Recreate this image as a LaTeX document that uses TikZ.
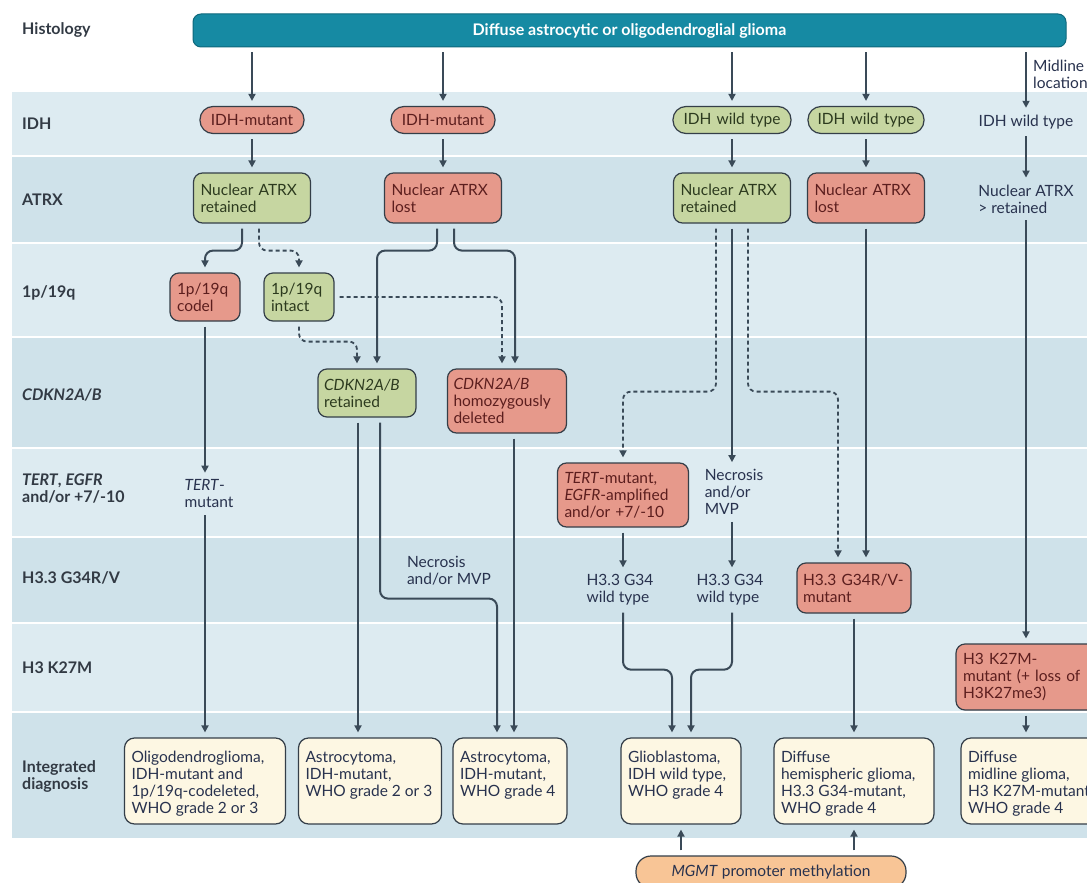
\documentclass[tikz,border=0pt]{standalone}
\usepackage{fontspec}
\setmainfont{Lato}
\usepackage{xcolor}
\usepackage{tikz}
\usetikzlibrary{arrows.meta, positioning, calc}
\definecolor{histteal}{RGB}{22,138,163}
\definecolor{histedge}{RGB}{14,104,124}
\definecolor{bandlt}{RGB}{221,235,241}
\definecolor{banddk}{RGB}{207,226,234}
\definecolor{redfill}{RGB}{230,153,139}
\definecolor{greenfill}{RGB}{198,214,161}
\definecolor{creamfill}{RGB}{253,247,227}
\definecolor{orangefill}{RGB}{248,197,150}
\definecolor{boxline}{RGB}{52,62,72}
\definecolor{lineclr}{RGB}{58,74,88}
\definecolor{redtext}{RGB}{92,30,30}
\definecolor{greentext}{RGB}{44,58,30}
\definecolor{plaintext}{RGB}{40,50,78}
\definecolor{lbltext}{RGB}{50,58,68}
\newcommand{\boxfont}{\fontsize{15.5}{17}\selectfont}
\newcommand{\lblfont}{\fontsize{16}{17}\selectfont\bfseries}
\newcommand{\dgtext}[2]{\parbox[c][86pt][t]{#1pt}{\vspace*{13pt}\raggedright #2}}
\tikzset{
  rowlbl/.style={anchor=west, font=\lblfont, text=lbltext, align=left, inner sep=0pt},
  topbox/.style={rectangle, draw=histedge, fill=histteal, rounded corners=8pt,
    line width=1pt, minimum width=873pt, minimum height=33pt,
    font=\fontsize{16}{18}\selectfont\bfseries, text=white},
  box/.style={rectangle, draw=boxline, line width=1.2pt, rounded corners=9pt,
    align=left, inner xsep=7pt, inner ysep=4pt, font=\boxfont},
  redbox/.style={box, fill=redfill, text=redtext},
  greenbox/.style={box, fill=greenfill, text=greentext},
  redpill/.style={redbox, rounded corners=13pt, align=center, minimum height=27pt},
  greenpill/.style={greenbox, rounded corners=13pt, align=center, minimum height=27pt},
  plain/.style={font=\boxfont, text=plaintext, align=left, inner sep=2pt},
  diag/.style={rectangle, draw=boxline, fill=creamfill, line width=1.2pt,
    rounded corners=10pt, inner xsep=7pt, inner ysep=0pt, font=\boxfont, text=plaintext},
  mgmtbox/.style={rectangle, draw=boxline, fill=orangefill, line width=1.2pt,
    rounded corners=15pt, minimum width=270pt, minimum height=32pt,
    font=\boxfont, text=plaintext},
  arr/.style={-{Triangle[length=7pt,width=7pt]}, line width=2pt, draw=lineclr,
    shorten <=5pt, shorten >=5pt},
  darr/.style={arr, line width=1.8pt, dash pattern=on 4pt off 3pt},
  elbow/.style={rounded corners=8pt}
}

\begin{document}
\begin{tikzpicture}[x=1pt, y=-1pt]
  \useasboundingbox (0,0) rectangle (1087,883);
  \fill[white] (0,0) rectangle (1087,883);

  % Row bands
  \foreach \ya/\yb/\c in {92/155/bandlt, 157/242/banddk, 244/336/bandlt, 338/447/banddk,
      449/536/bandlt, 538/622/banddk, 624/711/bandlt, 713/838/banddk}
    \fill[\c] (12,\ya) rectangle (1087,\yb);

  % Row labels
  \node[rowlbl] (lHist) at (22,30) {Histology};
  \node[rowlbl] (lIdh) at (22,124) {IDH};
  \node[rowlbl] (lAtrx) at (22,200) {ATRX};
  \node[rowlbl] (lCodel) at (22,293) {1p/19q};
  \node[rowlbl] (lCdkn) at (22,395) {\textit{CDKN2A/B}};
  \node[rowlbl] (lTert) at (22,489) {\textit{TERT}, \textit{EGFR}\\and/or +7/-10};
  \node[rowlbl] (lGly) at (22,578) {H3.3 G34R/V};
  \node[rowlbl] (lKm) at (22,668) {H3 K27M};
  \node[rowlbl] (lDiag) at (22,776) {Integrated\\diagnosis};

  % Histology
  \node[topbox] (top) at (629.5,30.5) {Diffuse astrocytic or oligodendroglial glioma};
  \node[plain, anchor=west] (midlbl) at (1031,74) {Midline\\location};

  % IDH
  \node[redpill, text width=90pt] (idhA) at (252,120) {IDH-mutant};
  \node[redpill, text width=90pt] (idhB) at (443,120) {IDH-mutant};
  \node[greenpill, text width=104pt] (idhC) at (732,120) {IDH wild type};
  \node[greenpill, text width=102pt] (idhD) at (866,120) {IDH wild type};
  \node[plain] (idhE) at (1026,122) {IDH wild type};

  % ATRX
  \node[greenbox, text width=103pt, minimum height=50pt] (atrxA) at (252,198) {Nuclear ATRX\\retained};
  \node[redbox, text width=103pt, minimum height=50pt] (atrxB) at (443,198) {Nuclear ATRX\\lost};
  \node[greenbox, text width=103pt, minimum height=50pt] (atrxC) at (732,198) {Nuclear ATRX\\retained};
  \node[redbox, text width=103pt, minimum height=50pt] (atrxD) at (866,198) {Nuclear ATRX\\lost};
  \node[plain] (atrxE) at (1026,199) {Nuclear ATRX\\> retained};

  % 1p/19q
  \node[redbox, text width=56pt, minimum height=48pt] (codel) at (205,297) {1p/19q\\codel};
  \node[greenbox, text width=56pt, minimum height=48pt] (intact) at (299,297) {1p/19q\\intact};

  % CDKN2A/B
  \node[greenbox, text width=86pt, inner xsep=6pt, minimum height=48pt] (cdknA) at (367,393) {\textit{CDKN2A/B}\\retained};
  \node[redbox, text width=107pt, inner xsep=6pt, minimum height=64pt] (cdknB) at (507,401) {\textit{CDKN2A/B}\\homozygously\\deleted};

  % TERT, EGFR
  \node[plain] (tertA) at (209,494) {\textit{TERT}-\\mutant};
  \node[redbox, text width=117pt, minimum height=64pt] (tertB) at (623,495) {\textit{TERT}-mutant,\\\textit{EGFR}-amplified\\and/or +7/-10};
  \node[plain] (necC) at (734,492) {Necrosis\\and/or\\MVP};

  % H3.3 G34R/V
  \node[plain] (necB) at (449,571) {Necrosis\\and/or MVP};
  \node[plain] (wtA) at (620,590) {H3.3 G34\\wild type};
  \node[plain] (wtB) at (730,590) {H3.3 G34\\wild type};
  \node[redbox, text width=102pt, inner xsep=6pt, minimum height=50pt] (h34mut) at (854,588) {H3.3 G34R/V-\\mutant};

  % H3 K27M
  \node[redbox, text width=126pt, minimum height=66pt] (k27) at (1026,677) {H3 K27M-\\mutant (+ loss of\\H3K27me3)};

  % Integrated diagnosis
  \node[diag] (diagA) at (205,781) {\dgtext{147}{Oligodendroglioma,\\IDH-mutant and\\1p/19q-codeleted,\\WHO grade 2 or 3}};
  \node[diag] (diagB) at (370,781) {\dgtext{129}{Astrocytoma,\\IDH-mutant,\\WHO grade 2 or 3}};
  \node[diag] (diagC) at (510,781) {\dgtext{100}{Astrocytoma,\\IDH-mutant,\\WHO grade 4}};
  \node[diag] (diagD) at (681,781) {\dgtext{106}{Glioblastoma,\\IDH wild type,\\WHO grade 4}};
  \node[diag] (diagE) at (854,781) {\dgtext{146}{Diffuse\\hemispheric glioma,\\H3.3 G34-mutant,\\WHO grade 4}};
  \node[diag] (diagF) at (1036,781) {\dgtext{136}{Diffuse\\midline glioma,\\H3 K27M-mutant,\\WHO grade 4}};
  \node[mgmtbox] (mgmt) at (771,872) {\textit{MGMT} promoter methylation};

  % Histology to IDH, IDH to ATRX
  \foreach \n in {idhA,idhB,idhC,idhD,idhE}
    \draw[arr] (top.south -| \n) -- (\n);
  \foreach \a/\b in {idhA/atrxA, idhB/atrxB, idhC/atrxC, idhD/atrxD, idhE/atrxE}
    \draw[arr] (\a) -- (\b);

  % IDH-mutant branches
  \draw[arr, elbow] ([xshift=-10pt]atrxA.south) -- ++(0,27) -| (codel);
  \draw[darr, elbow] ([xshift=7pt]atrxA.south) -- ++(0,27) -| (intact);
  \draw[darr, elbow] (intact.south) -- ++(0,20) -| ([xshift=-10pt]cdknA.north);
  \draw[darr, elbow] (intact.east) -| ([xshift=-5pt]cdknB.north);
  \draw[arr, elbow] ([xshift=-6pt]atrxB.south) -- ++(0,27) -| ([xshift=10pt]cdknA.north);
  \draw[arr, elbow] ([xshift=11pt]atrxB.south) -- ++(0,27) -| ([xshift=8pt]cdknB.north);
  \draw[arr] (codel) -- (codel |- tertA.north);
  \draw[arr] (codel |- tertA.south) -- (codel |- diagA.north);
  \coordinate (cA1) at ([xshift=-9pt]cdknA.south);
  \coordinate (cA2) at ([xshift=13pt]cdknA.south);
  \coordinate (cB1) at ([xshift=7pt]cdknB.south);
  \draw[arr] (cA1) -- (cA1 |- diagB.north);
  \draw[arr, elbow] (cA2) -- ++(0,181) -| ([xshift=-13pt]diagC.north);
  \draw[arr] (cB1) -- (cB1 |- diagC.north);

  % IDH wild type branches
  \draw[darr, elbow] ([xshift=-16pt]atrxC.south) -- ++(0,168) -| (tertB);
  \draw[arr] (atrxC) -- (atrxC |- necC.north);
  \draw[arr] (atrxC |- necC.south) -- (atrxC |- wtB.north);
  \draw[darr, elbow] ([xshift=16pt]atrxC.south) -- ++(0,168) -| ([xshift=-16pt]h34mut.north);
  \draw[arr] (atrxD) -- (atrxD |- h34mut.north);
  \draw[arr] (tertB) -- (tertB |- wtA.north);
  \draw[arr, elbow] (tertB |- wtA.south) -- ++(0,62) -| ([xshift=-9pt]diagD.north);
  \draw[arr, elbow] (atrxC |- wtB.south) -- ++(0,62) -| ([xshift=10pt]diagD.north);
  \draw[arr] (h34mut) -- (h34mut |- diagE.north);

  % Midline
  \draw[arr] (atrxE) -- (k27);
  \draw[arr] (k27) -- (k27 |- diagF.north);

  % MGMT
  \draw[arr] (mgmt.north -| diagD) -- (diagD);
  \draw[arr] (mgmt.north -| diagE) -- (diagE);
\end{tikzpicture}
\end{document}
